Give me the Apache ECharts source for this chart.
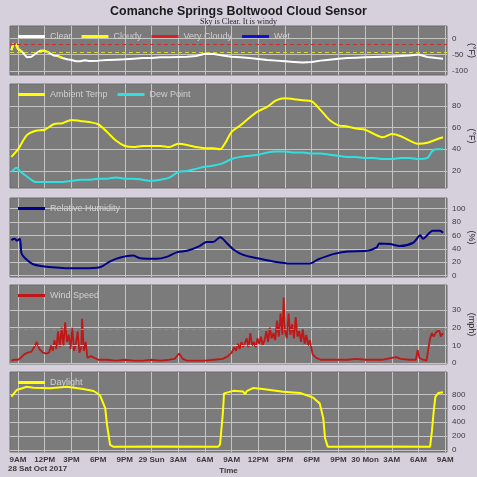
<!DOCTYPE html>
<html>
<head>
	<meta charset="utf-8">
	<title>Comanche Springs Boltwood Cloud Sensor</title>
	<script src="https://cdn.jsdelivr.net/npm/echarts@6/dist/echarts.min.js"></script>
	<style>
		html, body { margin: 0; padding: 0; background: #d6d0dc; }
	</style>
</head>
<body>
	<div id="main" style="width: 477px;height: 477px;"></div>
<script type="text/javascript">
	// x values are hours since midnight, Sat 28 Oct 2017
	var hourTicks = [9, 12, 15, 18, 21, 24, 27, 30, 33, 36, 39, 42, 45, 48, 51, 54, 57];
	var tickLabels = ['9AM', '12PM', '3PM', '6PM', '9PM', '29 Sun', '3AM', '6AM', '9AM', '12PM', '3PM', '6PM', '9PM', '30 Mon', '3AM', '6AM', '9AM'];

	// sky - ambient temperature (F)
	var skyTemp = [[8.25,-36],[8.5,-16],[8.75,-18],[9,-32],[9.5,-42],[10,-58],[10.5,-56],[11,-46],[11.5,-38],[12,-38],[12.5,-44],[13,-52],[13.5,-54],[14,-60],[14.5,-64],[15,-66],[15.5,-70],[16,-70],[16.5,-67],[17,-69],[18,-68],[19,-66],[20,-65],[21,-64],[22,-62],[23,-60],[24,-60],[25,-58],[26,-58],[27,-57],[28,-56],[29,-54],[30,-47],[31,-48],[32,-52],[33,-56],[34,-58],[35,-60],[36,-63],[37,-66],[38,-68],[39,-70],[40,-72],[41,-74],[42,-72],[43,-68],[44,-65],[45,-62],[46,-60],[47,-59],[48,-58],[49,-57],[50,-56],[51,-55],[52,-54],[53,-52],[54,-49],[55,-57],[56,-60],[56.75,-62]];
	var cloudyHours = [[8.25, 9.6], [11.2, 12.6], [13.4, 14.1]];
	var veryCloudyHours = [[8.4, 8.85]];
	var skyLimits = [-18, -42];

	var ambientTemp = [[8.25,33],[9,40],[10,53],[11,57],[12,58],[13,63],[14,64],[15,67],[16,66],[17,65],[18,63],[19,56],[20,48],[21,43],[22,42],[23,43],[24,43],[25,43],[26,42],[27,45],[28,44],[29,42],[30,41],[31,41],[31.7,40],[32.3,46],[33,56],[34,62],[35,69],[36,75],[37,79],[38,85],[39,87],[40,86],[41,85],[42,84],[43,76],[44,67],[45,62],[46,61],[47,59],[48,58],[49,54],[50,51],[51,54],[52,52],[53,48],[54,45],[55,46],[56,49],[56.75,51]];
	var dewPoint = [[8.25,19],[8.85,23],[9.2,20],[10,15],[11,10],[12,10],[13,10],[14,10],[15,11],[16,12],[17,12],[18,13],[19,13],[20,14],[21,13],[22,13],[23,12],[24,11],[25,12],[26,14],[27,19],[28,20],[29,22],[30,24],[31,25],[32,27],[33,31],[34,33],[35,34],[36,35],[37,37],[38,38],[39,38],[40,37],[41,37],[42,36],[43,36],[44,35],[45,34],[46,33],[47,33],[48,32],[49,32],[50,31],[51,31],[52,32],[53,32],[54,31],[55,32],[55.5,38],[56,40],[56.75,40]];

	var humidity = [[8.25,53],[8.6,55],[8.9,52],[9.2,55],[9.4,33],[9.8,26],[10.7,17],[11.8,14],[12.9,12.5],[14.5,11],[16.3,11],[18.2,12.5],[19.3,21],[20.5,27],[21.9,30],[22.7,26],[24.6,25],[25.7,28],[26.9,35],[28,37],[29.4,44],[30.2,50],[30.9,50],[31.7,57],[32.5,48],[33.2,39],[34.3,31],[35.9,26],[37.7,21],[39.6,18],[41.8,18],[42.7,24],[44.4,32],[46,36],[48.2,37],[49.3,42],[49.6,48],[50.8,47],[51.9,44],[53.4,49],[54.2,60],[54.5,55],[55.6,67],[56.4,67],[56.75,64]];

	var windSpeed = [[8.25,1.5],[8.6,2],[9,2],[9.3,3],[9.7,5],[10.1,6],[10.5,6.5],[10.8,9],[11.1,12],[11.4,8],[11.8,6],[12.2,5.5],[12.5,6],[12.7,10],[12.9,7],[13.1,13],[13.3,8],[13.5,18],[13.7,9],[13.9,20],[14.1,10],[14.3,23],[14.5,12],[14.7,16],[14.9,8],[15.1,20],[15.3,7],[15.5,11],[15.7,18],[15.9,6],[16.1,9],[16.2,25],[16.4,7],[16.6,12],[16.8,3],[17.2,4],[17.6,3],[18,2],[19,2],[20,1.5],[21,2],[22,1.5],[23,1.5],[24,2],[25,1.5],[26,2],[26.6,2.5],[27.1,5.5],[27.5,2.5],[28,1.5],[29,1.5],[30,1.5],[31,2],[32,2.5],[32.6,4],[33,6],[33.3,9],[33.5,7],[33.7,11],[33.9,8],[34.1,12],[34.3,9],[34.5,10],[34.7,14],[34.9,9],[35.1,17],[35.3,10],[35.5,12],[35.7,9],[35.9,14],[36.1,11],[36.3,15],[36.5,10],[36.7,13],[36.9,18],[37.1,12],[37.3,20],[37.5,14],[37.7,17],[37.9,13],[38.1,24],[38.3,15],[38.5,28],[38.7,16],[38.85,37],[39,18],[39.2,14],[39.4,28],[39.6,16],[39.8,22],[40,14],[40.2,26],[40.4,15],[40.6,18],[40.8,12],[41,19],[41.2,11],[41.4,16],[41.6,10],[41.8,13],[42.1,5],[42.5,3],[43,2],[44,2],[45,2],[46,2],[47,2.5],[48,2],[49,2],[50,2],[51,3],[51.5,3.5],[52,2.5],[53,2],[53.7,2],[53.9,7.5],[54.1,3],[54.5,2],[54.9,1.5],[55.1,8],[55.3,14],[55.5,17],[55.7,15],[55.9,17],[56.1,16],[56.3,19],[56.5,15],[56.75,17]];
	var windLimits = [19, 10];

	var daylight = [[8.25,766],[8.85,862],[10,910],[10.7,895],[12.6,888],[14.5,910],[16.3,876],[17.5,848],[18.2,790],[18.8,600],[19,360],[19.35,72],[19.7,48],[25,50],[31.5,48],[31.7,80],[32,503],[32.15,814],[33.2,850],[34.3,840],[34.5,800],[34.7,845],[35.4,890],[36.5,876],[38.8,838],[40.7,819],[42.1,757],[42.9,670],[43.3,455],[43.5,168],[43.8,48],[50,50],[55.3,48],[55.5,263],[55.7,550],[55.9,766],[56.25,820],[56.75,830]];

	var skyTicks = [0, -50, -100];
	var tempTicks = [20, 40, 60, 80];
	var humidityTicks = [0, 20, 40, 60, 80, 100];
	var windTicks = [0, 10, 20, 30];
	var daylightTicks = [0, 200, 400, 600, 800];

	function inRanges(h, ranges) {
		return ranges.some(function (r) { return h >= r[0] && h <= r[1]; });
	}
	function pick(data, ranges) {
		return data.map(function (p) { return inRanges(p[0], ranges) ? p : [p[0], '-']; });
	}

	// panel layout: top, height, y range
	var panels = [
		{top: 26, height: 49, min: -112, max: 38, ticks: skyTicks, unit: '(°F)'},
		{top: 84, height: 104, min: 4.4, max: 100, ticks: tempTicks, unit: '(°F)'},
		{top: 198, height: 79, min: -2, max: 115.6, ticks: humidityTicks, unit: '(%)'},
		{top: 285, height: 79, min: -0.4, max: 44, ticks: windTicks, unit: '(mph)'},
		{top: 372, height: 80, min: -29, max: 1121, ticks: daylightTicks, unit: ''}
	];

	var grids = [], xAxes = [], yAxes = [], legends = [];
	var legendNames = [
		['Clear', 'Cloudy', 'Very Cloudy', 'Wet'],
		['Ambient Temp', 'Dew Point'],
		['Relative Humidity'],
		['Wind Speed'],
		['Daylight']
	];
	panels.forEach(function (p, i) {
		grids.push({
			left: 10, right: 30, top: p.top, height: p.height,
			containLabel: false, outerBoundsMode: 'none',
			show: true, backgroundColor: '#7b7b7b', borderColor: '#6c6c6c', borderWidth: 1
		});
		xAxes.push({
			type: 'value', gridIndex: i, min: 8.1, max: 57.2,
			axisLine: {show: false},
			axisTick: {show: false, customValues: hourTicks},
			axisLabel: {
				show: i === 4, customValues: hourTicks, color: '#3a3a3a', fontSize: 8, fontWeight: 'bold', margin: 4,
				formatter: function (v) { return tickLabels[hourTicks.indexOf(v)]; }
			},
			splitLine: {show: true, lineStyle: {color: '#c4c4c4', width: 1}},
			name: i === 4 ? 'Time' : '', nameLocation: 'middle', nameGap: 15, nameMoveOverlap: false,
			nameTextStyle: {color: '#3a3a3a', fontSize: 8, fontWeight: 'bold'}
		});
		yAxes.push({
			type: 'value', gridIndex: i, position: 'right', min: p.min, max: p.max,
			axisLine: {show: false},
			axisTick: {show: false, customValues: p.ticks},
			axisLabel: {customValues: p.ticks, color: '#3a3a3a', fontSize: 8, margin: 5},
			splitLine: {show: true, lineStyle: {color: '#c4c4c4', width: 1}},
			name: p.unit, nameLocation: 'middle', nameRotate: -90, nameGap: 20, nameMoveOverlap: false,
			nameTextStyle: {color: '#222', fontSize: 9}
		});
		legends.push({
			data: legendNames[i], left: 13, top: p.top + 1,
			icon: 'rect', itemWidth: 27, itemHeight: 3, itemGap: 10,
			textStyle: {color: '#d0d0d0', fontSize: 9},
			selectedMode: false
		});
	});

	function dashed(values, colors) {
		return {
			silent: true, symbol: 'none', label: {show: false},
			data: values.map(function (v, k) {
				return {yAxis: v, lineStyle: {color: colors[k], type: [4, 3], width: 1}};
			})
		};
	}

	var myChart = echarts.init(document.getElementById('main'));
	var option = {
		animation: false,
		backgroundColor: '#d6d0dc',
		title: {
			text: 'Comanche Springs Boltwood Cloud Sensor',
			subtext: 'Sky is Clear. It is windy',
			left: 'center', top: 1, itemGap: 0,
			textStyle: {fontSize: 12.4, fontWeight: 'bold', color: '#1a1a1a', fontFamily: 'Liberation Sans'},
			subtextStyle: {fontSize: 8, color: '#222', fontFamily: 'Liberation Serif'}
		},
		legend: legends,
		grid: grids,
		xAxis: xAxes,
		yAxis: yAxes,
		graphic: [{
			type: 'text', left: 8, top: 465,
			style: {text: '28 Sat Oct 2017', fontSize: 8, fontWeight: 'bold', fill: '#3a3a3a'}
		}],
		series: [
			{name: 'Clear', type: 'line', xAxisIndex: 0, yAxisIndex: 0, data: skyTemp, showSymbol: false,
				color: '#ffffff', lineStyle: {width: 2}, markLine: dashed(skyLimits, ['#c83030', '#d8d830'])},
			{name: 'Cloudy', type: 'line', xAxisIndex: 0, yAxisIndex: 0, data: pick(skyTemp, cloudyHours), showSymbol: false,
				color: '#ffff00', lineStyle: {width: 2}},
			{name: 'Very Cloudy', type: 'line', xAxisIndex: 0, yAxisIndex: 0, data: pick(skyTemp, veryCloudyHours), showSymbol: false,
				color: '#d82020', lineStyle: {width: 2}},
			{name: 'Wet', type: 'line', xAxisIndex: 0, yAxisIndex: 0, data: [], showSymbol: false,
				color: '#1010d0', lineStyle: {width: 2}},
			{name: 'Ambient Temp', type: 'line', xAxisIndex: 1, yAxisIndex: 1, data: ambientTemp, showSymbol: false,
				smooth: 0.3, color: '#ffff00', lineStyle: {width: 2}},
			{name: 'Dew Point', type: 'line', xAxisIndex: 1, yAxisIndex: 1, data: dewPoint, showSymbol: false,
				smooth: 0.3, color: '#30e0e0', lineStyle: {width: 2}},
			{name: 'Relative Humidity', type: 'line', xAxisIndex: 2, yAxisIndex: 2, data: humidity, showSymbol: false,
				smooth: 0.3, color: '#000088', lineStyle: {width: 2}},
			{name: 'Wind Speed', type: 'line', xAxisIndex: 3, yAxisIndex: 3, data: windSpeed, showSymbol: false,
				color: '#c01818', lineStyle: {width: 1.8}, markLine: dashed(windLimits, ['#e07030', '#e0e030'])},
			{name: 'Daylight', type: 'line', xAxisIndex: 4, yAxisIndex: 4, data: daylight, showSymbol: false,
				color: '#ffff00', lineStyle: {width: 2}}
		]
	};
	myChart.setOption(option);
</script>
</body>
</html>
